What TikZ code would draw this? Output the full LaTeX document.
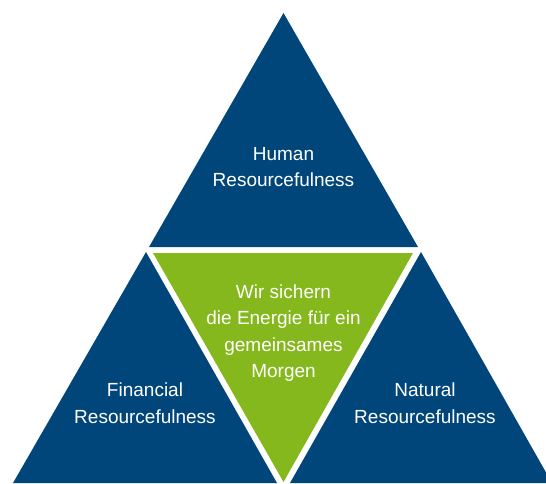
\documentclass[tikz,border=0pt]{standalone}
\usepackage{fontspec}
\setmainfont{Liberation Sans}
\usepackage{tikz}
\usepackage{xcolor}
\usetikzlibrary{positioning}
\definecolor{Res_Blue}{HTML}{00467A}
\definecolor{Res_Green}{HTML}{85B81C}

\begin{document}
\begin{tikzpicture}[x=1pt, y=1pt,
    label text/.style={white, align=center, font=\fontsize{19}{26.5}\selectfont}]
    \useasboundingbox (0, 0) rectangle (546, 483);

    % Human (top)
    \fill[Res_Blue] (149, 236) -- (418, 236) -- (283.5, 470) -- cycle;
    \node[label text] (human) at (283.5, 316) {Human\\Resourcefulness};

    % Financial (left)
    \fill[Res_Blue] (13, 0) -- (277, 0) -- (146, 231) -- cycle;
    \node[label text] (financial) at (145, 80) {Financial\\Resourcefulness};

    % Natural (right)
    \fill[Res_Blue] (290, 0) -- (552, 0) -- (421, 231) -- cycle;
    \node[label text] (natural) at (425, 80) {Natural\\Resourcefulness};

    % Centre (green)
    \fill[Res_Green] (153, 230) -- (413, 230) -- (283.5, 1) -- cycle;
    \node[label text] (centre) at (283.5, 150)
        {Wir sichern\\die Energie für ein\\gemeinsames\\Morgen};
\end{tikzpicture}
\end{document}
